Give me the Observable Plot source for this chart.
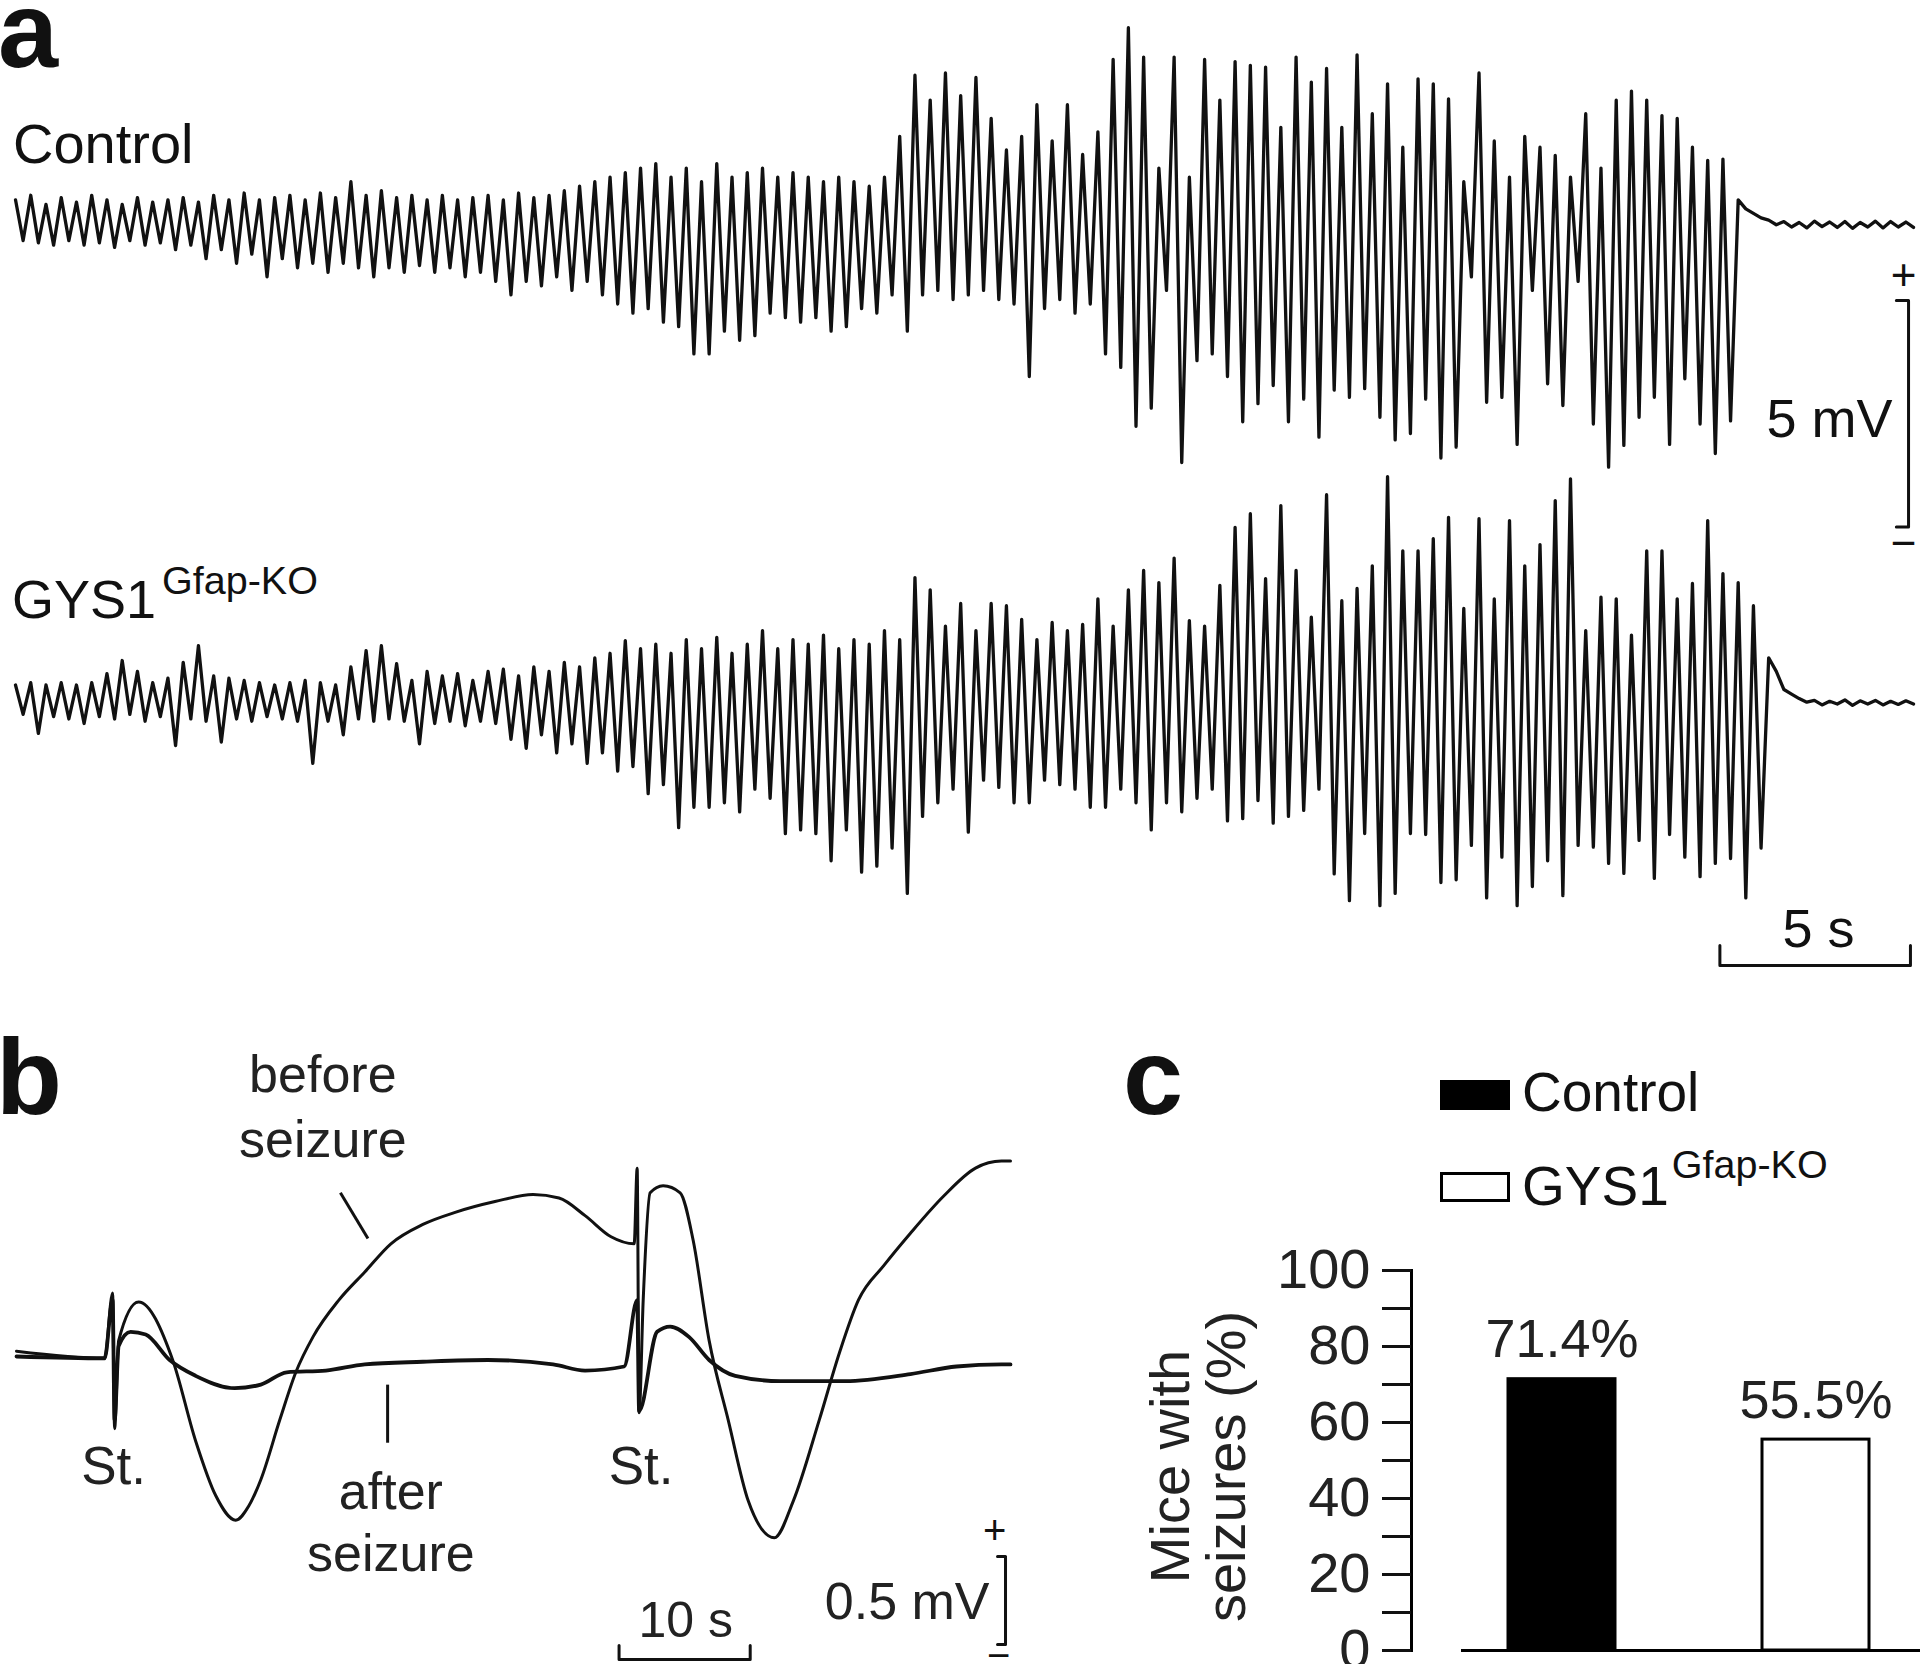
<!DOCTYPE html>
<html>
<head>
<meta charset="utf-8">
<script src="https://cdn.jsdelivr.net/npm/d3@7"></script>
<script src="https://cdn.jsdelivr.net/npm/@observablehq/plot@0.6"></script>
<style>
html, body { margin: 0; padding: 0; background: #fff; }
#fig { position: relative; width: 1920px; height: 1664px; overflow: hidden; background: #fff;
       font-family: "Liberation Sans", Arial, Helvetica, sans-serif; color: #111; }
.lbl { position: absolute; line-height: 1; white-space: nowrap; }
.box { position: absolute; }
.sw { position: absolute; box-sizing: border-box; }
</style>
</head>
<body>
<div id="fig"></div>
<script>
// ---------------- DATA ----------------
// Panel a: EEG envelopes, one high / low value (mV) per 0.4 s sample bin
const sampleStep = 0.4; // s
const controlHi = [0.5,0.6,0.4,0.55,0.45,0.6,0.5,0.4,0.55,0.45,0.5,
  0.55,0.45,0.6,0.5,0.65,0.5,0.55,0.6,0.5,0.65,
  0.55,0.9,0.6,0.7,0.55,0.6,0.5,0.6,0.5,0.55,
  0.6,0.5,0.65,0.55,0.6,0.7,0.8,0.9,1.0,1.1,
  1.2,1.3,1.0,1.2,0.9,1.3,1.0,1.1,1.2,1.0,
  1.1,1.0,0.9,1.0,0.9,0.8,1.0,1.9,3.25,2.7,
  3.3,2.8,3.2,2.3,1.6,1.9,2.6,1.8,2.6,1.5,
  2.0,3.6,4.3,3.65,1.2,3.65,1.0,3.6,2.7,3.55,
  3.47,3.43,2.1,3.65,3.1,3.4,2.1,3.7,2.4,3.06,
  1.66,3.17,3.06,2.73,0.9,3.3,1.8,1.0,1.9,1.66,
  1.48,1.0,2.4,1.2,2.7,2.9,2.7,2.36,2.3,1.66,
  1.37,1.4,
  0.5,0.2,0.05,0.02,0.0,0.03,0.01,0.02,0.0,0.03,0.02,0.01];
const controlLo = [-0.4,-0.45,-0.5,-0.4,-0.5,-0.45,-0.55,-0.4,-0.5,-0.45,-0.6,
  -0.5,-0.8,-0.6,-0.9,-0.7,-1.2,-0.8,-1.0,-0.9,-1.1,
  -0.9,-1.0,-1.2,-1.0,-1.1,-0.95,-1.1,-1.0,-1.2,-1.1,
  -1.3,-1.6,-1.3,-1.4,-1.2,-1.5,-1.3,-1.6,-1.8,-2.0,
  -1.9,-2.2,-2.3,-2.9,-2.9,-2.4,-2.6,-2.5,-2.0,-2.1,
  -2.2,-2.1,-2.4,-2.3,-1.9,-2.0,-1.6,-2.4,-1.6,-1.5,
  -1.7,-1.6,-1.5,-1.7,-1.8,-3.4,-1.9,-1.7,-2.0,-1.8,
  -2.9,-3.2,-4.5,-4.1,-1.5,-5.3,-3.05,-2.9,-3.4,-4.4,
  -4.0,-3.6,-4.4,-3.9,-4.74,-3.7,-3.86,-3.67,-4.3,-4.8,
  -4.66,-3.9,-5.2,-4.96,-1.2,-3.97,-3.86,-4.9,-1.5,-3.56,
  -4.04,-1.3,-4.45,-5.4,-4.92,-4.3,-3.86,-4.9,-3.45,-4.45,
  -5.1,-4.38,
  0.3,0.1,-0.05,-0.1,-0.12,-0.09,-0.11,-0.13,-0.1,-0.12,-0.1,-0.11];
const gysHi = [0.3,0.35,0.3,0.35,0.3,0.35,0.55,0.84,0.6,0.35,
  0.45,0.8,1.17,0.5,0.45,0.4,0.35,0.3,0.35,0.4,
  0.35,0.3,0.7,1.06,1.17,0.77,0.4,0.6,0.5,0.55,
  0.4,0.6,0.65,0.5,0.7,0.6,0.8,0.7,0.9,1.0,
  1.28,1.1,1.2,1.0,1.3,1.1,1.35,1.0,1.2,1.5,
  1.1,1.3,1.2,1.4,1.1,1.3,1.2,1.5,1.3,
  2.67,2.4,1.6,2.1,1.5,2.1,2.05,1.75,1.3,1.68,
  1.5,1.64,2.2,1.6,2.4,2.83,2.56,3.1,1.72,1.6,
  2.5,3.78,4.08,2.65,
  4.26,2.83,1.8,4.5,2.16,2.43,2.93,4.9,3.26,3.26,
  3.53,4.0,1.99,3.97,2.2,3.93,2.93,3.4,4.37,4.85,
  1.5,2.24,2.2,1.4,3.26,3.26,2.2,2.54,3.93,2.76,
  2.56,2.05,0.9,0.2,0.0,-0.04,-0.06,-0.03,-0.05,-0.04,-0.06,-0.05];
const gysLo = [-0.35,-0.77,-0.4,-0.45,-0.55,-0.4,-0.45,-0.35,-0.5,-0.4,
  -1.04,-0.45,-0.5,-0.96,-0.45,-0.5,-0.4,-0.45,-0.5,-1.43,
  -0.5,-0.8,-0.45,-0.5,-0.45,-0.5,-1.0,-0.55,-0.5,-0.6,
  -0.5,-0.55,-0.9,-1.1,-0.8,-1.2,-1.0,-1.43,-1.2,-1.6,
  -1.5,-2.1,-1.9,-2.85,-2.4,-2.4,-2.3,-2.5,-2.0,-2.2,
  -2.98,-2.9,-2.98,-3.58,-2.9,-3.83,-3.7,-3.3,-4.3,
  -2.6,-2.3,-2.0,-2.95,-1.8,-1.96,-2.3,-2.3,-1.8,-1.9,
  -2.0,-2.4,-2.4,-2.0,-2.3,-2.9,-2.3,-2.5,-2.2,-2.0,
  -2.7,-2.65,-2.25,-2.75,
  -2.6,-2.47,-2.0,-3.87,-4.46,-2.98,-4.57,-4.3,-2.98,-3.0,
  -4.06,-4.0,-3.24,-4.4,-3.5,-4.57,-4.15,-3.58,-4.35,-3.24,
  -3.28,-3.64,-3.86,-3.13,-3.97,-3.0,-3.5,-3.93,-3.64,-3.53,
  -4.4,-3.3,0.6,0.1,-0.08,-0.14,-0.12,-0.15,-0.12,-0.14,-0.13,-0.12];
const traceNames = ["Control", "GYS1"];

// Panel b: evoked field potentials (time in s, amplitude in mV)
const beforeT = [0,6.72,7.33,7.48,7.79,9.31,11.91,13.66,15.19,16.72,17.71,18.63,20.08,21.30,22.60,24.58,26.56,28.55,30.99,33.51,36.49,39.39,41.37,43.36,45.34,47.10,47.33,47.48,47.79,48.32,49.31,50.61,51.60,52.82,54.27,55.80,57.79,59.24,61.22,62.75,64.20,66.18,68.17,70.69,73.13,75.11,75.8];
const beforeV = [0.03,-0.01,0.36,-0.41,0.09,0.31,-0.02,-0.48,-0.79,-0.93,-0.85,-0.70,-0.36,-0.09,0.11,0.32,0.48,0.64,0.75,0.82,0.88,0.92,0.90,0.80,0.68,0.64,1.07,-0.32,0.32,0.93,0.97,0.93,0.66,0.09,-0.36,-0.82,-1.03,-0.82,-0.36,0.02,0.32,0.52,0.70,0.91,1.07,1.11,1.11];
const afterT = [0,6.72,7.33,7.48,7.79,8.70,9.85,11.68,13.66,16.64,18.63,20.61,23.59,26.56,30.99,35.95,40.92,43.36,46.34,47.33,47.48,48.85,49.85,51.30,52.82,54.81,58.24,63.21,68.17,71.68,75.11,75.8];
const afterV = [0.0,-0.01,0.32,-0.36,0.06,0.14,0.125,-0.02,-0.11,-0.18,-0.16,-0.09,-0.08,-0.045,-0.03,-0.02,-0.045,-0.08,-0.057,0.32,-0.31,0.14,0.17,0.11,-0.02,-0.11,-0.14,-0.14,-0.10,-0.057,-0.045,-0.045];
const stimTimes = [7.40, 47.63];

// Panel c: percentage of mice with seizures
const groups = ["Control", "GYS1"];
const seizurePct = [71.4, 55.5];
const pctLabels = ["71.4%", "55.5%"];
const yTicks = [0,10,20,30,40,50,60,70,80,90,100];

// ---------------- LAYOUT ----------------
const FONT = '"Liberation Sans", Arial, Helvetica, sans-serif';
const fig = document.getElementById("fig");
const INK = "#111";

function box(node, left, top, width) {
  const d = document.createElement("div");
  d.className = "box";
  d.style.left = left + "px"; d.style.top = top + "px"; d.style.width = width + "px";
  d.appendChild(node); fig.appendChild(d); return d;
}
function label(html, left, baseline, size, weight) {
  const d = document.createElement("div");
  d.className = "lbl";
  d.style.left = left + "px";
  d.style.top = (baseline - 0.8465 * size) + "px";
  d.style.fontSize = size + "px";
  if (weight) d.style.fontWeight = weight;
  d.innerHTML = html;
  fig.appendChild(d); return d;
}
const svgStyle = (fs) => ({background: "transparent", fontFamily: FONT, fontSize: fs + "px", overflow: "visible", maxWidth: "none", color: INK});

// ---------- Panel a ----------
const zig = (hi, lo, name) => hi.flatMap((h, i) => [
  {name, t: i * sampleStep, v: h},
  {name, t: i * sampleStep + sampleStep / 2, v: lo[i]}
]);
const gysOffset = -10.51; // vertical stacking of the second trace (mV)
const aPts = [...zig(controlHi, controlLo, "Control"), ...zig(gysHi, gysLo, "GYS1")]
  .map(d => ({...d, y: d.name === "GYS1" ? d.v + gysOffset : d.v}));

const mvBar = [{t: 49.35, v: -1.72}, {t: 49.67, v: -1.72}, {t: 49.67, v: -6.72}, {t: 49.35, v: -6.72}];
const secBar = [{t: 44.72, v: -15.96}, {t: 44.72, v: -16.40}, {t: 49.72, v: -16.40}, {t: 49.72, v: -15.96}];

const plotA = Plot.plot({
  width: 1920, height: 1000,
  marginLeft: 15, marginRight: 7, marginTop: 0, marginBottom: 0,
  x: {domain: [0, 49.8], axis: null},
  y: {domain: [-17.175, 4.9], axis: null},
  style: svgStyle(54),
  marks: [
    Plot.line(aPts, {x: "t", y: "y", z: "name", stroke: INK, strokeWidth: 3.3, strokeLinejoin: "round"}),
    Plot.line(mvBar, {x: "t", y: "v", stroke: INK, strokeWidth: 3}),
    Plot.line(secBar, {x: "t", y: "v", stroke: INK, strokeWidth: 3}),
    Plot.text(["5 mV"], {x: 49.25, y: -4.746, text: d => d, textAnchor: "end", lineAnchor: "bottom", fontSize: 54, fill: INK}),
    Plot.text(["5 s"], {x: 47.31, y: -16.0, text: d => d, textAnchor: "middle", lineAnchor: "bottom", fontSize: 54, fill: INK}),
    Plot.text(["+"], {x: 49.54, y: -1.17, text: d => d, lineAnchor: "middle", fontSize: 44, fill: INK}),
    Plot.text(["\u2212"], {x: 49.54, y: -7.09, text: d => d, lineAnchor: "middle", fontSize: 44, fill: INK})
  ]
});
box(plotA, 0, 0, 1920);

// ---------- Panel b ----------
const beforePts = beforeT.map((t, i) => ({t, v: beforeV[i]}));
const afterPts = afterT.map((t, i) => ({t, v: afterV[i]}));
// annotation lines (each text line anchored at its baseline)
const bTexts = [
  {t: 23.36, v: 1.50, text: "before"},
  {t: 23.36, v: 1.136, text: "seizure"},
  {t: 28.55, v: -0.864, text: "after"},
  {t: 28.55, v: -1.216, text: "seizure"}
];
const bLeaders = [
  {t1: 24.7, v1: 0.93, t2: 26.8, v2: 0.67},
  {t1: 28.3, v1: -0.16, t2: 28.3, v2: -0.49}
];
const tenSecBar = [{t: 45.95, v: -1.642}, {t: 45.95, v: -1.722}, {t: 55.95, v: -1.722}, {t: 55.95, v: -1.642}];
const halfMvBar = [{t: 74.81, v: -1.136}, {t: 75.42, v: -1.136}, {t: 75.42, v: -1.636}, {t: 74.81, v: -1.636}];

const plotB = Plot.plot({
  width: 1040, height: 634,
  marginLeft: 16, marginRight: 30, marginTop: 0, marginBottom: 0,
  x: {domain: [0, 75.8], axis: null},
  y: {domain: [-1.75, 1.852], axis: null},
  style: svgStyle(52),
  marks: [
    Plot.line(afterPts, {x: "t", y: "v", stroke: INK, strokeWidth: 3.8, curve: "monotone-x"}),
    Plot.line(beforePts, {x: "t", y: "v", stroke: INK, strokeWidth: 3, curve: "monotone-x"}),
    Plot.link(bLeaders, {x1: "t1", y1: "v1", x2: "t2", y2: "v2", stroke: INK, strokeWidth: 3}),
    Plot.text(bTexts, {x: "t", y: "v", text: "text", lineAnchor: "bottom", fontSize: 52, fill: "#222"}),
    Plot.text(stimTimes, {x: d => d, y: -0.727, text: () => "St.", lineAnchor: "bottom", fontSize: 53, fill: "#222"}),
    Plot.line(tenSecBar, {x: "t", y: "v", stroke: INK, strokeWidth: 3}),
    Plot.line(halfMvBar, {x: "t", y: "v", stroke: INK, strokeWidth: 3}),
    Plot.text(["10 s"], {x: 51.03, y: -1.591, text: d => d, lineAnchor: "bottom", fontSize: 50, fill: "#222"}),
    Plot.text(["0.5 mV"], {x: 74.2, y: -1.494, text: d => d, textAnchor: "end", lineAnchor: "bottom", fontSize: 52, fill: "#222"}),
    Plot.text(["+"], {x: 74.6, y: -0.99, text: d => d, lineAnchor: "middle", fontSize: 40, fill: INK}),
    Plot.text(["\u2212"], {x: 74.9, y: -1.70, text: d => d, lineAnchor: "middle", fontSize: 40, fill: INK})
  ]
});
box(plotB, 0, 1030, 1040);

// ---------- Panel c ----------
const cData = groups.map((g, i) => ({group: g, pct: seizurePct[i], label: pctLabels[i]}));
const plotC = Plot.plot({
  width: 820, height: 424,
  marginLeft: 311, marginRight: 0, marginTop: 30, marginBottom: 14,
  x: {domain: groups, range: [408, 769], paddingInner: 0.579, paddingOuter: 0, axis: null},
  y: {domain: [0, 100], axis: null, label: null},
  color: {domain: groups, range: ["#000000", "#ffffff"]},
  style: svgStyle(56),
  marks: [
    Plot.barY(cData, {x: "group", y: "pct", fill: "group", stroke: "#000", strokeWidth: 3}),
    Plot.ruleY([0], {insetLeft: 50, stroke: "#000", strokeWidth: 3}),
    Plot.frame({anchor: "left", stroke: "#000", strokeWidth: 3}),
    Plot.axisY(yTicks, {tickSize: 29, tickPadding: 12, strokeWidth: 3, fontSize: 56, label: null,
      tickFormat: d => (d % 20 === 0 ? String(d) : ""), fill: "#222"}),
    Plot.text(cData, {x: "group", y: "pct", text: "label", dy: -22, lineAnchor: "bottom", fontSize: 54, fill: "#222"}),
    Plot.text(["Mice with\nseizures (%)"], {frameAnchor: "left", text: d => d, rotate: -90, dx: -212, dy: 6,
      fontSize: 56, lineHeight: 1, textAnchor: "middle", lineAnchor: "middle", fill: "#222"})
  ]
});
box(plotC, 1100, 1240, 820);

// ---------- Text labels & legend ----------
label("a", -2, 67, 108, "bold");
label("b", -4, 1114, 108, "bold");
label("c", 1123, 1114, 108, "bold");
label(traceNames[0], 13, 163, 56);
label(traceNames[1] + '<span style="font-size:39.5px;position:relative;top:-24px;margin-left:6px">Gfap-KO</span>', 12, 618, 54);

// legend for panel c
[["#000", 1080], ["#fff", 1172]].forEach(([fill, top]) => {
  const s = document.createElement("div");
  s.className = "sw";
  s.style.left = "1440px"; s.style.top = top + "px";
  s.style.width = "70px"; s.style.height = "30px";
  s.style.background = fill; s.style.border = "3px solid #000";
  fig.appendChild(s);
});
label(groups[0], 1522, 1112, 55);
label(groups[1] + '<span style="font-size:39.5px;position:relative;top:-27px;margin-left:3px">Gfap-KO</span>', 1522, 1206, 55);
</script>
</body>
</html>
